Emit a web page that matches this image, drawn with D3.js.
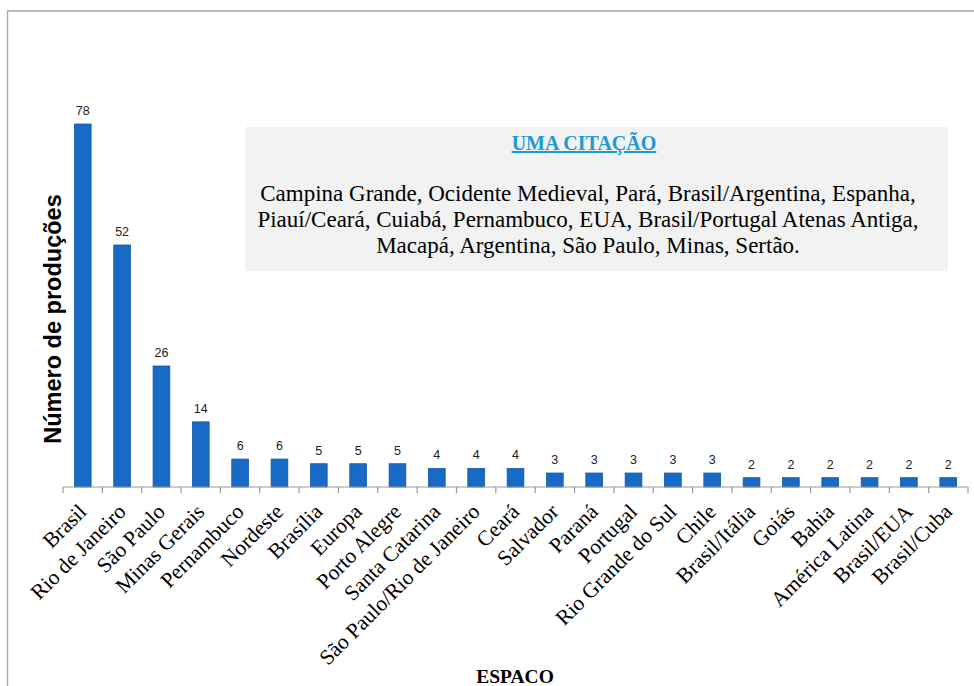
<!DOCTYPE html>
<html>
<head>
<meta charset="utf-8">
<script src="https://cdn.jsdelivr.net/npm/d3@7"></script>
<style>
  body { margin: 0; background: #fff; }
  svg { display: block; }
</style>
</head>
<body>
<div id="chart"></div>
<script>
const categories = ["Brasil", "Rio de Janeiro", "São Paulo", "Minas Gerais", "Pernambuco", "Nordeste",
  "Brasília", "Europa", "Porto Alegre", "Santa Catarina", "São Paulo/Rio de Janeiro", "Ceará",
  "Salvador", "Paraná", "Portugal", "Rio Grande do Sul", "Chile", "Brasil/Itália", "Goiás",
  "Bahia", "América Latina", "Brasil/EUA", "Brasil/Cuba"]
const values = [78, 52, 26, 14, 6, 6, 5, 5, 5, 4, 4, 4, 3, 3, 3, 3, 3, 2, 2, 2, 2, 2, 2]

const noteTitle = "UMA CITAÇÃO"
const noteLines = [
  "Campina Grande, Ocidente Medieval, Pará, Brasil/Argentina, Espanha,",
  "Piauí/Ceará, Cuiabá, Pernambuco, EUA, Brasil/Portugal Atenas Antiga,",
  "Macapá, Argentina, São Paulo, Minas, Sertão."
]

const width = 974
const height = 686
const margin = { top: 20, right: 6, bottom: 199, left: 63 }

const svg = d3.select("#chart").append("svg")
  .attr("width", width)
  .attr("height", height)

// outer frame (only top and left visible)
svg.append("path")
  .attr("d", `M7.5,${height} V11 H${width}`)
  .attr("fill", "none")
  .attr("stroke", "#aaa")
  .attr("stroke-width", 1.5)

const x = d3.scaleBand()
  .domain(categories)
  .range([margin.left, width - margin.right])
  .paddingInner(0.575)
  .paddingOuter(0.29)

const y = d3.scaleLinear()
  .domain([0, 78])
  .range([height - margin.bottom, 124])

// bars
svg.append("g")
  .selectAll("rect")
  .data(values)
  .join("rect")
  .attr("x", (d, i) => x(categories[i]))
  .attr("y", d => y(d))
  .attr("width", x.bandwidth())
  .attr("height", d => y(0) - y(d))
  .attr("fill", "#176bc6")
  .attr("stroke", "#1259a6")
  .attr("stroke-width", 0.8)

// value labels
svg.append("g")
  .selectAll("text")
  .data(values)
  .join("text")
  .attr("x", (d, i) => x(categories[i]) + x.bandwidth() / 2)
  .attr("y", d => y(d) - 9)
  .attr("text-anchor", "middle")
  .attr("font-family", "Liberation Sans, Arial, sans-serif")
  .attr("font-size", 12.5)
  .attr("fill", "#222")
  .text(d => d)

// x axis with ticks between categories
const axisY = y(0)
const boundaries = d3.range(categories.length + 1)
  .map(i => margin.left + i * (width - margin.right - margin.left) / categories.length)

const xg = svg.append("g")
xg.append("line")
  .attr("x1", margin.left).attr("x2", width - margin.right)
  .attr("y1", axisY).attr("y2", axisY)
  .attr("stroke", "#999")
  .attr("stroke-width", 1.2)
xg.selectAll("line.tick")
  .data(boundaries)
  .join("line")
  .attr("class", "tick")
  .attr("x1", d => d).attr("x2", d => d)
  .attr("y1", axisY).attr("y2", axisY + 6)
  .attr("stroke", "#999")
  .attr("stroke-width", 1.2)

xg.selectAll("text")
  .data(categories)
  .join("text")
  .attr("transform", d => `translate(${x(d) + x.bandwidth() / 2 + 5},${axisY + 26}) rotate(-45)`)
  .attr("text-anchor", "end")
  .attr("font-family", "Liberation Serif, Times New Roman, serif")
  .attr("font-size", 21.5)
  .attr("fill", "#000")
  .text(d => d)

// axis titles
svg.append("text")
  .attr("transform", `translate(61,319) rotate(-90)`)
  .attr("text-anchor", "middle")
  .attr("font-family", "Liberation Sans, Arial, sans-serif")
  .attr("font-weight", "bold")
  .attr("font-size", 23.5)
  .attr("fill", "#000")
  .text("Número de produções")

svg.append("text")
  .attr("x", 515)
  .attr("y", 683)
  .attr("text-anchor", "middle")
  .attr("font-family", "Liberation Serif, Times New Roman, serif")
  .attr("font-weight", "bold")
  .attr("font-size", 19.5)
  .attr("fill", "#000")
  .text("ESPACO")

// note box
const note = svg.append("g")
note.append("rect")
  .attr("x", 245).attr("y", 127)
  .attr("width", 703).attr("height", 144)
  .attr("fill", "#f2f2f2")

note.append("text")
  .attr("x", 584)
  .attr("y", 150)
  .attr("text-anchor", "middle")
  .attr("font-family", "Liberation Serif, Times New Roman, serif")
  .attr("font-weight", "bold")
  .attr("font-size", 20)
  .attr("fill", "#1a9ad6")
  .attr("text-decoration", "underline")
  .text(noteTitle)

note.selectAll("text.line")
  .data(noteLines)
  .join("text")
  .attr("class", "line")
  .attr("x", 588)
  .attr("y", (d, i) => 201 + i * 26)
  .attr("text-anchor", "middle")
  .attr("font-family", "Liberation Serif, Times New Roman, serif")
  .attr("font-size", 23)
  .attr("fill", "#000")
  .text(d => d)
</script>
</body>
</html>
